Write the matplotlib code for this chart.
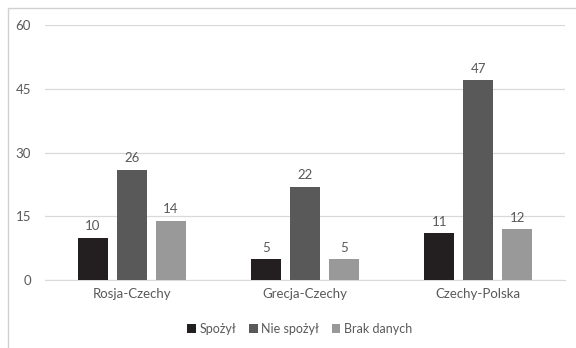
import matplotlib.pyplot as plt
import numpy as np
from matplotlib.patches import Rectangle

categories = ['Rosja-Czechy', 'Grecja-Czechy', 'Czechy-Polska']
series_names = ['Spożył', 'Nie spożył', 'Brak danych']
spozyl = [10, 5, 11]
nie_spozyl = [26, 22, 47]
brak_danych = [14, 5, 12]
y_ticks = [0, 15, 30, 45, 60]

colors = ['#231f20', '#595959', '#999999']
text_color = '#595959'

plt.rcParams['font.family'] = ['Lato', 'DejaVu Sans']

fig = plt.figure(figsize=(5.76, 3.48), dpi=100)
ax = fig.add_axes([45/576, 1 - 280/348, 520/576, 255/348])

# ramka wokol wykresu
fig.patches.append(Rectangle((8/576, -0.01), 1.0, 1 - 8/348 + 0.01,
                             transform=fig.transFigure, fill=False,
                             edgecolor='#d0d0d0', linewidth=1.0))

x = np.arange(len(categories))
width = 0.173
step = 0.225
for i, (vals, name) in enumerate(zip([spozyl, nie_spozyl, brak_danych], series_names)):
    bars = ax.bar(x + (i - 1) * step, vals, width, color=colors[i], label=name, zorder=3)
    for b, v in zip(bars, vals):
        ax.text(b.get_x() + b.get_width() / 2, v + 1.2, str(v), ha='center', va='bottom',
                fontsize=9.5, color=text_color)

ax.set_xlim(-0.5, 2.5)
ax.set_ylim(0, 60)
ax.set_yticks(y_ticks)
ax.set_xticks(x)
ax.set_xticklabels(categories)
ax.grid(axis='y', color='#d9d9d9', linewidth=0.9, zorder=0)
for s in ['top', 'right', 'left']:
    ax.spines[s].set_visible(False)
ax.spines['bottom'].set_color('#d9d9d9')
ax.tick_params(axis='both', length=0, colors=text_color, labelsize=9.5)
ax.tick_params(axis='y', pad=10)
ax.tick_params(axis='x', pad=6)

ax.legend(loc='upper center', bbox_to_anchor=(0.49, -0.125), ncol=3, frameon=False,
          fontsize=9, handlelength=0.7, handleheight=0.7, handletextpad=0.3,
          columnspacing=1.0, labelcolor=text_color)

fig.savefig('out.png', dpi=100)
